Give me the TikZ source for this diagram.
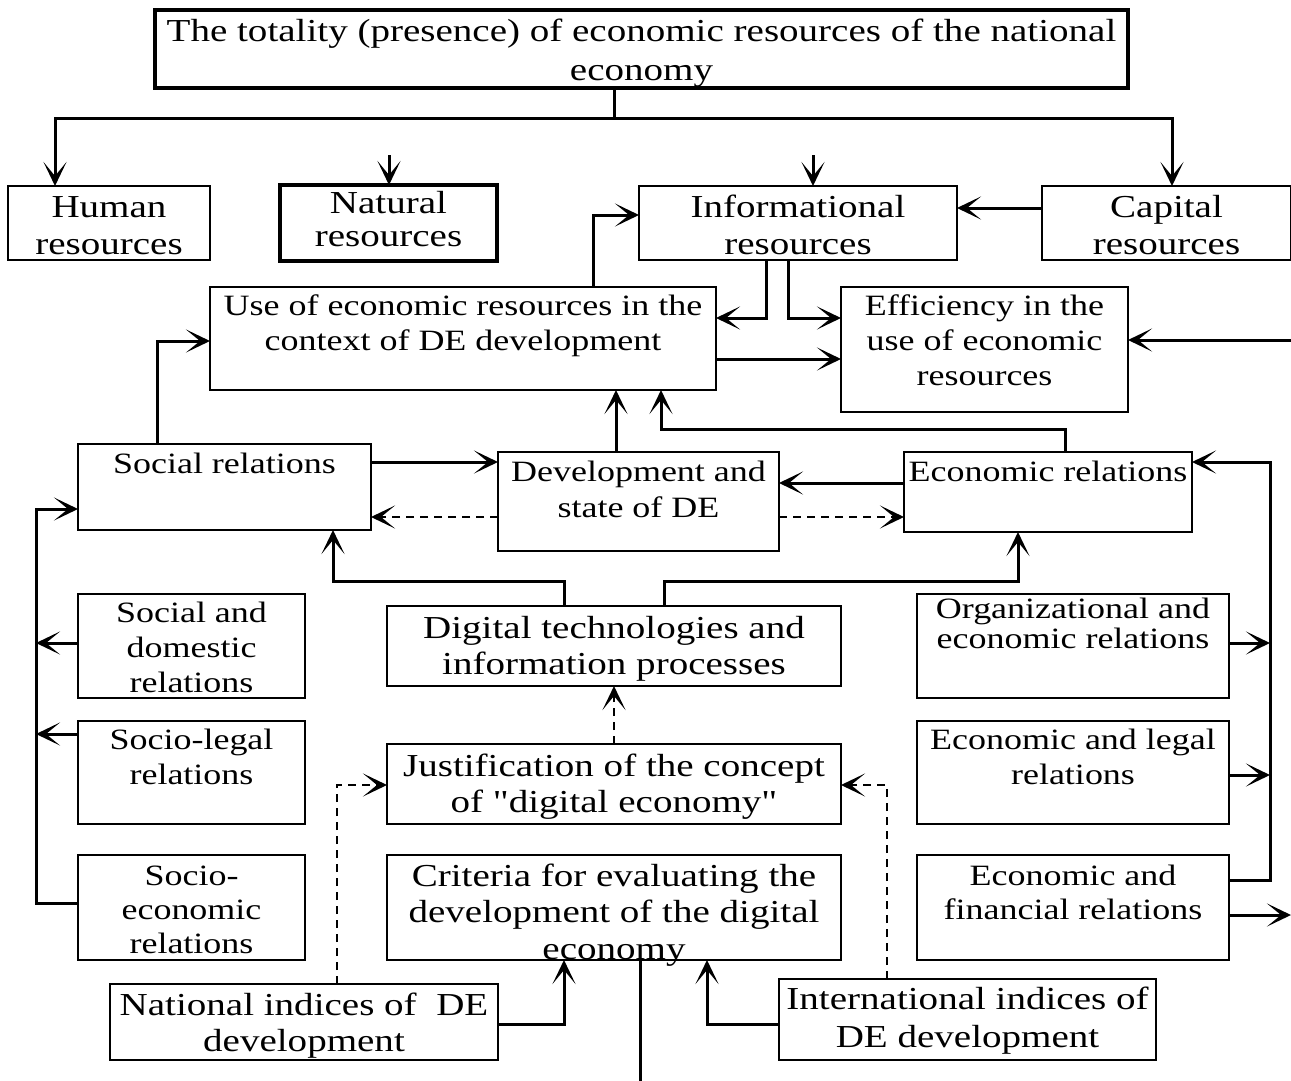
\documentclass[tikz,border=0pt]{standalone}
\usepackage{fontspec}
\setmainfont{Liberation Serif}[FakeStretch=1.22,Ligatures=TeXOff]
\usetikzlibrary{arrows.meta}
% width, height, first-baseline offset, font size, baselineskip, text
\newcommand\bxt[6]{\parbox[c][#2pt][t]{#1pt}{\fontsize{#4pt}{#5pt}\selectfont\centering\rule{0pt}{#3pt}#6}}
\tikzset{
  box/.style={draw, line width=1.7pt, inner sep=0pt, outer sep=0pt},
  tbox/.style={box, line width=3.2pt},
  ln/.style={line width=3pt},
  arr/.style={ln, -{Stealth[length=24pt,width=23pt,inset=14pt]}},
  dsh/.style={arr, line width=2.4pt, dash pattern=on 8pt off 6pt}
}
\begin{document}
\begin{tikzpicture}[x=1pt,y=-1pt]
\useasboundingbox (0,0) rectangle (1291,1081);
% boxes
\node[tbox] (top) at (641.5,49) {\bxt{973}{78}{32}{32}{39}{The totality (presence) of economic resources of the national\\economy}};
\node[box] (hum) at (109,223) {\bxt{202}{74}{31}{32}{37}{Human\\resources}};
\node[tbox] (nat) at (388.5,223) {\bxt{217}{76}{28}{32}{33}{Natural\\resources}};
\node[box] (inf) at (798,223) {\bxt{318}{74}{31}{32}{37}{Informational\\resources}};
\node[box] (cap) at (1166.5,223) {\bxt{249}{74}{31}{32}{37}{Capital\\resources}};
\node[box] (use) at (463,338.5) {\bxt{506}{103}{28}{29.5}{35}{Use of economic resources in the\\context of DE development}};
\node[box] (eff) at (984.5,349.5) {\bxt{287}{125}{28}{29.5}{35}{Efficiency in the\\use of economic\\resources}};
\node[box] (soc) at (224.5,487) {\bxt{293}{86}{29}{29.5}{35}{Social relations}};
\node[box] (dev) at (638.5,501.5) {\bxt{281}{99}{29}{29.5}{36}{Development and\\state of DE}};
\node[box] (eco) at (1048,492) {\bxt{288}{80}{29}{29.5}{35}{Economic relations}};
\node[box] (sdom) at (191.5,646) {\bxt{227}{104}{28}{29.5}{35}{Social and\\domestic\\relations}};
\node[box] (dig) at (614,646) {\bxt{454}{80}{32}{32}{36}{Digital technologies and\\information processes}};
\node[box] (org) at (1073,646) {\bxt{312}{104}{24}{29.5}{30}{Organizational and\\economic relations}};
\node[box] (slegal) at (191.5,772.5) {\bxt{227}{103}{28}{29.5}{35}{Socio-legal\\relations}};
\node[box] (just) at (614,784) {\bxt{454}{80}{32}{32}{36}{Justification of the concept\\of "digital economy"}};
\node[box] (elegal) at (1073,772.5) {\bxt{312}{103}{28}{29.5}{35}{Economic and legal\\relations}};
\node[box] (secon) at (191.5,907.5) {\bxt{227}{105}{30}{29.5}{34}{Socio-\\economic\\relations}};
\node[box] (crit) at (614,907.5) {\bxt{454}{105}{31}{32}{36.5}{Criteria for evaluating the\\development of the digital\\economy}};
\node[box] (efin) at (1073,907.5) {\bxt{312}{105}{30}{29.5}{34}{Economic and\\financial relations}};
\node[box] (natidx) at (304,1022) {\bxt{388}{76}{31}{32}{36}{National indices of\ \ DE\\development}};
\node[box] (intidx) at (967.5,1019.5) {\bxt{377}{81}{30}{32}{38}{International indices of\\DE development}};
% free ends
\coordinate (tb) at (614,118);
\coordinate (natin) at (389,155);
\coordinate (infin) at (813,155);
\coordinate (rin) at (1291,340);
\coordinate (lb) at (36,903);
\coordinate (rb) at (1270,880);
\coordinate (rout) at (1291,915);
\coordinate (cbot) at (640,1081);
% top distribution
\draw[ln] (top.south -| tb) -- (tb);
\draw[arr] (tb) -| (hum.north -| 55,0);
\draw[arr] (tb) -| (cap.north -| 1172,0);
\draw[arr] (natin) -- (nat.north -| natin);
\draw[arr] (infin) -- (inf.north -| infin);
\draw[arr] (cap.west |- 0,208) -- (inf.east |- 0,208);
% use / informational / efficiency
\draw[arr] (use.north -| 593,0) |- (inf.west |- 0,215);
\draw[arr] (inf.south -| 766,0) |- (use.east |- 0,318);
\draw[arr] (inf.south -| 788,0) |- (eff.west |- 0,318);
\draw[arr] (use.east |- 0,359) -- (eff.west |- 0,359);
\draw[arr] (rin) -- (eff.east |- rin);
% relations level
\draw[arr] (soc.north -| 157,0) |- (use.west |- 0,341);
\draw[arr] (soc.east |- 0,462) -- (dev.west |- 0,462);
\draw[dsh] (dev.west |- 0,517) -- (soc.east |- 0,517);
\draw[arr] (dev.north -| 616,0) -- (use.south -| 616,0);
\draw[arr] (eco.north -| 1065,0) -- ++(0,-23) -| (use.south -| 661,0);
\draw[arr] (eco.west |- 0,483) -- (dev.east |- 0,483);
\draw[dsh] (dev.east |- 0,517) -- (eco.west |- 0,517);
\draw[arr] (dig.north -| 564,0) -- ++(0,-25) -| (soc.south -| 333,0);
\draw[arr] (dig.north -| 664,0) -- ++(0,-25) -| (eco.south -| 1018,0);
% left bus
\draw[arr] (secon.west |- lb) -- (lb) |- (soc.west |- 0,509);
\draw[arr] (sdom.west |- 0,643) -- (lb |- 0,643);
\draw[arr] (slegal.west |- 0,734) -- (lb |- 0,734);
% right bus
\draw[arr] (efin.east |- rb) -- (rb) |- (eco.east |- 0,462);
\draw[arr] (org.east |- 0,643) -- (rb |- 0,643);
\draw[arr] (elegal.east |- 0,775) -- (rb |- 0,775);
\draw[arr] (efin.east |- rout) -- (rout);
% lower part
\draw[dsh] (just.north) -- (dig.south);
\draw[dsh] (natidx.north -| 337,0) |- (just.west |- 0,785);
\draw[dsh] (intidx.north -| 887,0) |- (just.east |- 0,785);
\draw[arr] (natidx.east |- 0,1024) -| (crit.south -| 564,0);
\draw[arr] (intidx.west |- 0,1024) -| (crit.south -| 707,0);
\draw[ln] (crit.south -| cbot) -- (cbot);
\end{tikzpicture}
\end{document}
